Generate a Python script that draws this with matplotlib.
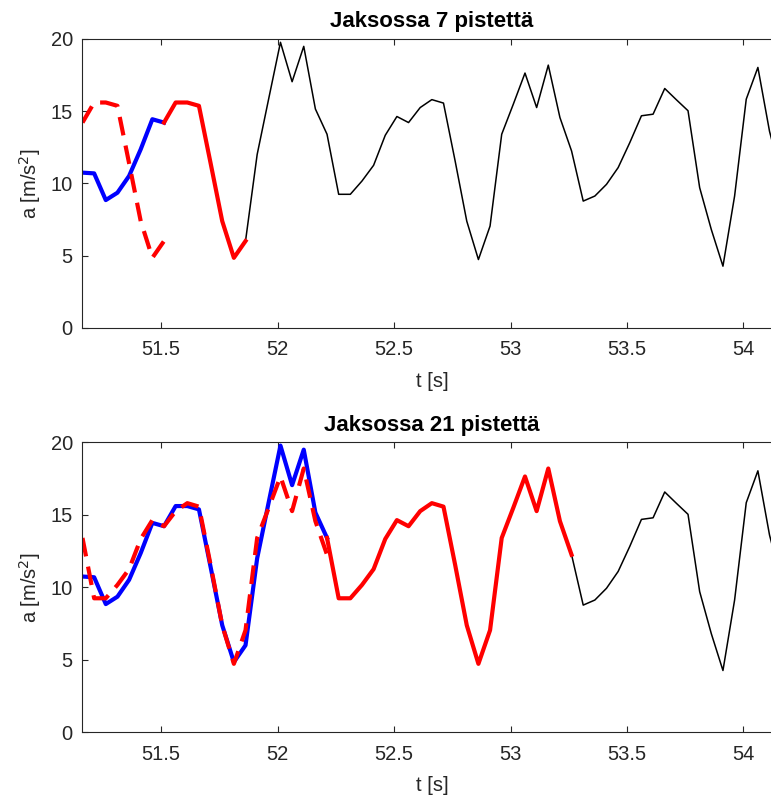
# Jaksollisuus: kiihtyvyyssignaali ja sen siirretty jakso
import matplotlib
matplotlib.use("Agg")
import matplotlib.pyplot as plt

plt.rcParams['font.family'] = ['Liberation Sans', 'DejaVu Sans']

# aika [s], näytteet 20 Hz
t = [51.162, 51.212, 51.262, 51.312, 51.362, 51.412, 51.462, 51.512, 51.562, 51.612,
     51.662, 51.712, 51.762, 51.812, 51.862, 51.912, 51.962, 52.012, 52.062, 52.112,
     52.162, 52.212, 52.262, 52.312, 52.362, 52.412, 52.462, 52.512, 52.562, 52.612,
     52.662, 52.712, 52.762, 52.812, 52.862, 52.912, 52.962, 53.012, 53.062, 53.112,
     53.162, 53.212, 53.262, 53.312, 53.362, 53.412, 53.462, 53.512, 53.562, 53.612,
     53.662, 53.712, 53.762, 53.812, 53.862, 53.912, 53.962, 54.012, 54.062, 54.112,
     54.162]

# kiihtyvyys [m/s^2]
a = [10.74, 10.69, 8.84, 9.35, 10.51, 12.36, 14.44, 14.21, 15.60, 15.60,
     15.37, 11.40, 7.38, 4.84, 6.00, 12.00, 15.90, 19.77, 17.04, 19.49,
     15.15, 13.40, 9.24, 9.24, 10.16, 11.25, 13.33, 14.63, 14.21, 15.25,
     15.80, 15.56, 11.55, 7.38, 4.72, 7.04, 13.40, 15.49, 17.64, 15.25,
     18.19, 14.56, 12.24, 8.77, 9.12, 9.93, 11.09, 12.82, 14.68, 14.79,
     16.57, 15.79, 15.03, 9.70, 6.80, 4.26, 9.12, 15.83, 18.03, 13.60,
     10.50]

periods = [7, 21]
titles = ["Jaksossa 7 pistettä", "Jaksossa 21 pistettä"]

x_ticks = [51.5, 52, 52.5, 53, 53.5, 54]
x_tick_labels = ["51.5", "52", "52.5", "53", "53.5", "54"]
y_ticks = [0, 5, 10, 15, 20]

AX_COLOR = '#262626'
FS = 14.5

fig = plt.figure(figsize=(7.71, 7.99), dpi=100)
positions = [[0.1070, 0.5899, 0.9062, 0.3613],
             [0.1070, 0.0835, 0.9062, 0.3630]]


def draw_panel(ax, n, title):
    # koko signaali ohuena
    ax.plot(t, a, color='k', linewidth=1.1)
    # ensimmäinen jakso sinisenä
    ax.plot(t[:n + 1], a[:n + 1], color='b', linewidth=3)
    # seuraava jakso punaisena
    ax.plot(t[n:2 * n + 1], a[n:2 * n + 1], color='r', linewidth=3)
    # seuraava jakso siirrettynä alkuun
    dashed, = ax.plot(t[:n + 1], a[n:2 * n + 1], color='r', linewidth=3,
                      linestyle='--')
    dashed.set_dashes([4.5, 2.5])

    ax.set_xlim(t[0], t[-1])
    ax.set_ylim(0, 20)
    ax.set_xticks(x_ticks)
    ax.set_xticklabels(x_tick_labels)
    ax.set_yticks(y_ticks)
    ax.tick_params(direction='in', length=4.3, width=0.8, colors=AX_COLOR,
                   labelsize=FS, top=True, right=True)
    ax.tick_params(axis='x', pad=9)
    ax.tick_params(axis='y', pad=7)
    for side, sp in ax.spines.items():
        sp.set_color(AX_COLOR)
        sp.set_linewidth(0.8)
    ax.spines['right'].set_visible(False)

    ax.set_xlabel("t [s]", fontsize=FS, color=AX_COLOR)
    ax.xaxis.set_label_coords(0.5, -0.152)
    ax.set_ylabel("a [m/s$^2$]", fontsize=FS, color=AX_COLOR)
    ax.yaxis.set_label_coords(-0.057, 0.5)
    ax.text(0.5, 1.04, title, transform=ax.transAxes, ha='center',
            va='baseline', fontsize=16, fontweight='bold', color='k')


for pos, n, title in zip(positions, periods, titles):
    ax = fig.add_axes(pos)
    draw_panel(ax, n, title)

fig.savefig('out.png', dpi=100)
